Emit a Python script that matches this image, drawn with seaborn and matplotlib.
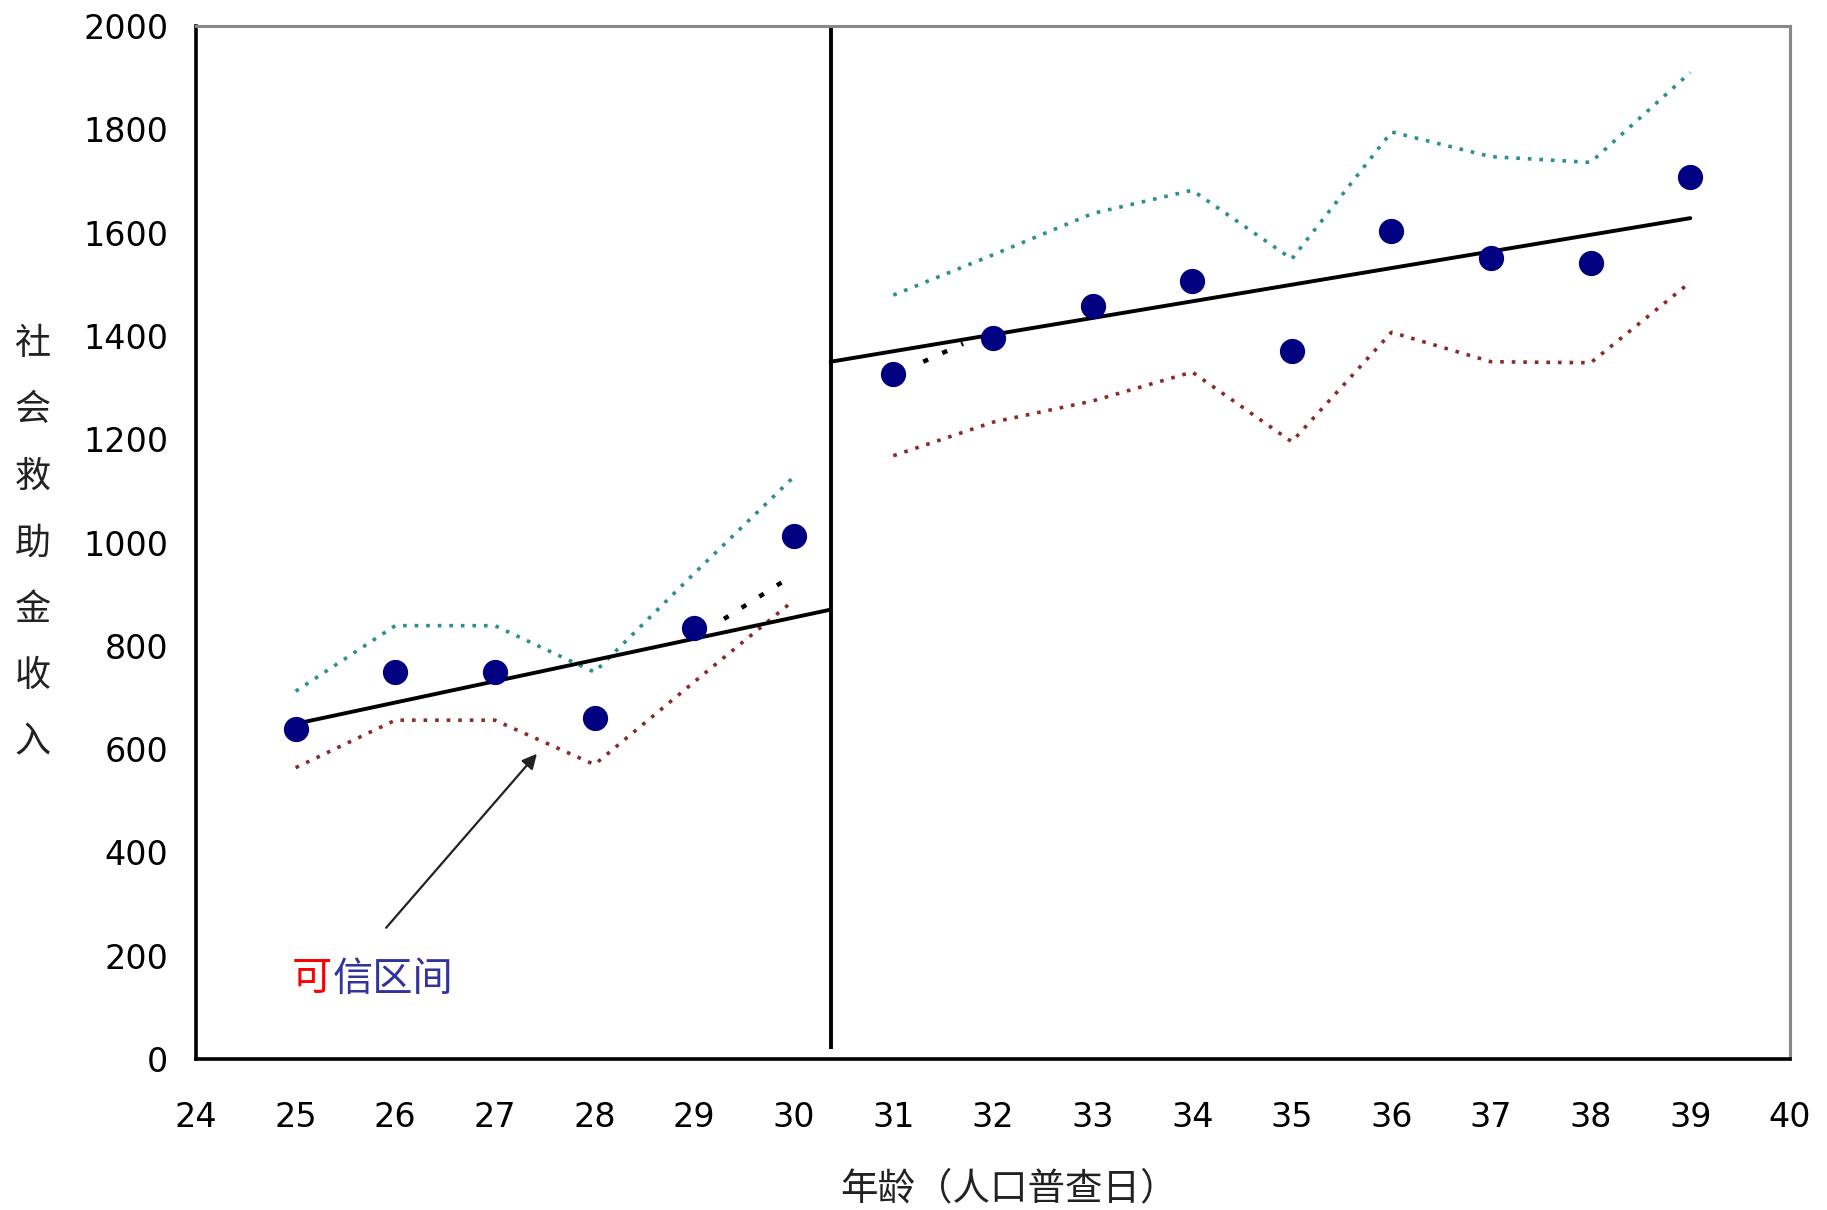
import numpy as np
import pandas as pd
import matplotlib
matplotlib.use("Agg")
import matplotlib.pyplot as plt
import seaborn as sns

# 数据
ages = [25, 26, 27, 28, 29, 30, 31, 32, 33, 34, 35, 36, 37, 38, 39]
income = [638, 749, 749, 661, 834, 1012, 1326, 1396, 1457, 1506, 1371, 1603, 1551, 1542, 1707]
upper_ci = [712, 839, 839, 749, 940, 1127, 1479, 1557, 1637, 1682, 1549, 1795, 1747, 1736, 1910]
lower_ci = [564, 656, 656, 570, 730, 888, 1168, 1233, 1274, 1330, 1195, 1407, 1350, 1348, 1504]

break_age = 30.37
fit_left_x = [25, break_age]
fit_left_y = [649, 870]
fit_right_x = [break_age, 39]
fit_right_y = [1350, 1628]
ext_left_x = [29.3, 29.93]
ext_left_y = [852, 929]
ext_right_x = [31.3, 31.7]
ext_right_y = [1350, 1385]

x_ticks = list(range(24, 41))
y_ticks = list(range(0, 2001, 200))

df = pd.DataFrame({"age": ages, "income": income, "upper": upper_ci, "lower": lower_ci})
df["side"] = np.where(df["age"] < break_age, "left", "right")

sns.set_theme(style="white")
plt.rcParams["font.family"] = ["DejaVu Sans", "Noto Sans CJK SC"]

fig = plt.figure(figsize=(18.27, 12.10), dpi=100)
ax = fig.add_axes([0.1073, 0.1248, 0.8724, 0.8537])

# 可信区间（分两段）
for side, part in df.groupby("side"):
    sns.lineplot(data=part, x="age", y="upper", ax=ax, color="#2a8f8f",
                 linestyle=(0, (1, 2.2)), linewidth=2.6, legend=False)
    sns.lineplot(data=part, x="age", y="lower", ax=ax, color="#8c2a2a",
                 linestyle=(0, (1, 2.2)), linewidth=2.6, legend=False)

# 回归线
ax.plot(fit_left_x, fit_left_y, color="black", linewidth=2.8)
ax.plot(fit_right_x, fit_right_y, color="black", linewidth=2.8)
ax.plot(ext_left_x, ext_left_y, color="black", linewidth=3.2, linestyle=(0, (1.2, 3.5)))
ax.plot(ext_right_x, ext_right_y, color="black", linewidth=3.2, linestyle=(0, (1.2, 3.5)))

# 断点竖线
ax.vlines(break_age, 20, 2000, color="black", linewidth=2.8)

sns.scatterplot(data=df, x="age", y="income", ax=ax, color="#000080",
                s=330, edgecolor="#000080", linewidth=0, zorder=5, legend=False)

ax.annotate("", xy=(27.44, 595), xytext=(25.89, 250),
            arrowprops=dict(arrowstyle="-|>", color="#222222", lw=1.6,
                            mutation_scale=22))
ax.text(24.96, 155, "可", color="red", fontsize=29, va="center", ha="left",
        family=["Noto Sans CJK SC"])
ax.text(25.37, 155, "信区间", color="#3333a0", fontsize=29, va="center", ha="left",
        family=["Noto Sans CJK SC"])

ax.set_xlim(24, 40)
ax.set_ylim(0, 2000)
ax.set_xticks(x_ticks)
ax.set_yticks(y_ticks)
ax.tick_params(axis="both", direction="out", length=10, width=2, labelsize=24,
               colors="black")
ax.tick_params(axis="y", pad=10)
ax.tick_params(axis="x", pad=20)
ax.set_xlabel("")
ax.set_ylabel("")

for side in ["left", "bottom"]:
    ax.spines[side].set_color("black")
    ax.spines[side].set_linewidth(2.6)
for side in ["top", "right"]:
    ax.spines[side].set_color("#888888")
    ax.spines[side].set_linewidth(2.2)

fig.text(0.0179, 0.551, "\n".join("社会救助金收入"), fontsize=26, color="#222222",
         ha="center", va="center", linespacing=2.09, family=["Noto Sans CJK SC"])
fig.text(0.552, 0.0175, "年龄（人口普查日）", fontsize=27, color="#222222",
         ha="center", va="center", family=["Noto Sans CJK SC"])

fig.savefig("out.png", dpi=100)
